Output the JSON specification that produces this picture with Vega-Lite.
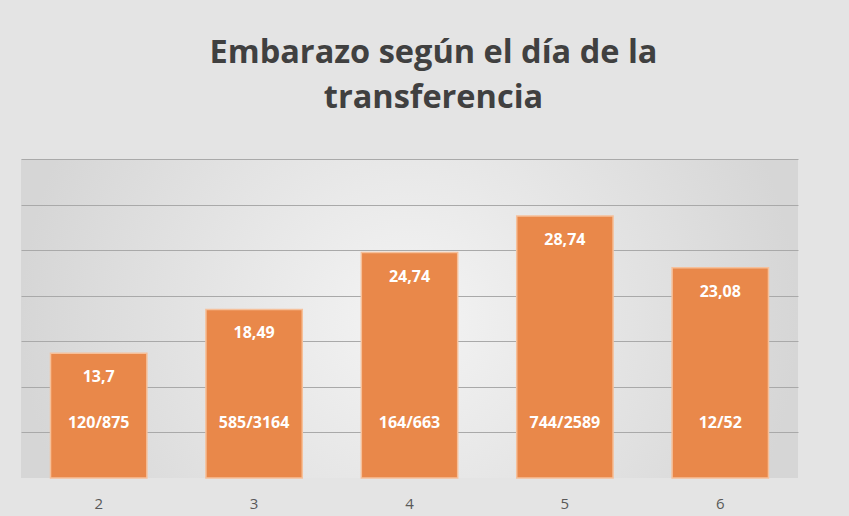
{
  "$schema": "https://vega.github.io/schema/vega-lite/v6.json",
  "width": 777,
  "height": 319,
  "autosize": {"type": "none"},
  "padding": {"left": 21, "top": 159, "right": 51, "bottom": 38},
  "background": "#e4e4e4",
  "title": {
    "text": ["Embarazo según el día de la", "transferencia"],
    "font": "Open Sans",
    "fontSize": 32.5,
    "fontWeight": "bold",
    "color": "#404040",
    "lineHeight": 45,
    "anchor": "middle",
    "dx": 24,
    "offset": 45
  },
  "data": {
    "values": [
      {"dia": "2", "val": 13.7, "lab": "13,7", "frac": "120/875"},
      {"dia": "3", "val": 18.49, "lab": "18,49", "frac": "585/3164"},
      {"dia": "4", "val": 24.74, "lab": "24,74", "frac": "164/663"},
      {"dia": "5", "val": 28.74, "lab": "28,74", "frac": "744/2589"},
      {"dia": "6", "val": 23.08, "lab": "23,08", "frac": "12/52"}
    ]
  },
  "encoding": {
    "x": {
      "field": "dia", "type": "nominal", "sort": null,
      "scale": {"paddingInner": 0.38, "paddingOuter": 0.19},
      "axis": {"title": null, "labelAngle": 0, "ticks": false, "domain": false, "grid": false,
               "labelFont": "Open Sans", "labelFontSize": 15, "labelColor": "#595959", "labelPadding": 18}
    }
  },
  "layer": [
    {
      "mark": {"type": "bar", "color": "#E9884A", "stroke": "#F6C09A", "strokeWidth": 1.5},
      "encoding": {
        "y": {
          "field": "val", "type": "quantitative",
          "scale": {"domain": [0, 35], "nice": false},
          "axis": {"title": null, "labels": false, "ticks": false, "domain": false,
                   "values": [5, 10, 15, 20, 25, 30, 35], "gridColor": "#a9a9a9", "gridWidth": 1.2}
        }
      }
    },
    {
      "mark": {"type": "text", "color": "white", "font": "Open Sans", "fontWeight": "bold", "fontSize": 16, "baseline": "middle", "dy": 24},
      "encoding": {
        "y": {"field": "val", "type": "quantitative"},
        "text": {"field": "lab"}
      }
    },
    {
      "mark": {"type": "text", "color": "white", "font": "Open Sans", "fontWeight": "bold", "fontSize": 16, "baseline": "middle"},
      "encoding": {
        "y": {"datum": 6},
        "text": {"field": "frac"}
      }
    },
    {
      "mark": {"type": "rule", "color": "#404040", "strokeWidth": 4},
      "encoding": {"y": {"datum": 0}}
    }
  ],
  "config": {
    "view": {"stroke": null, "fill": {"gradient": "radial", "stops": [{"offset": 0, "color": "#f4f4f4"}, {"offset": 1, "color": "#d6d6d6"}]}}
  }
}
